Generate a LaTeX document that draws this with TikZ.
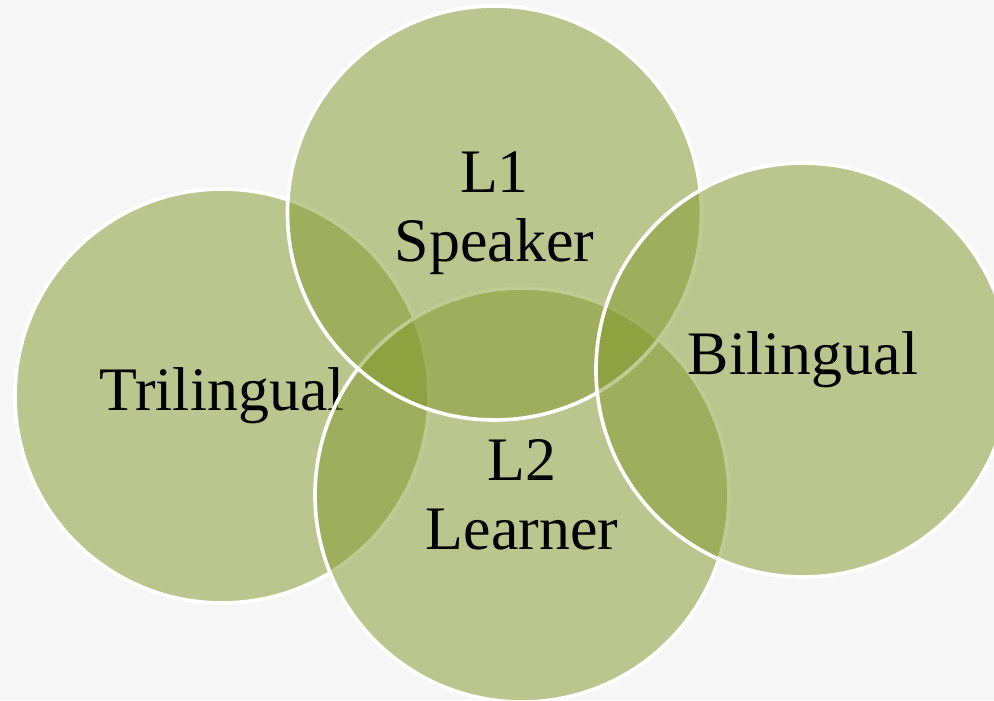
\documentclass[tikz,border=0pt]{standalone}
\usepackage{fontspec}
\setmainfont{Liberation Serif}
\usetikzlibrary{positioning}
\definecolor{olive}{RGB}{130,152,42}
\definecolor{paper}{RGB}{246,246,246}
\newcommand{\crad}{207}
\newcommand{\mcircle}[4][]{
  \node [venn,#1] at #2 (#4) {#3};
}

\begin{document}
\begin{tikzpicture}[x=0.025cm,y=0.025cm,
  venn/.style={circle,minimum size=2*\crad*0.025cm,inner sep=0pt,outer sep=0pt,
    fill=olive,fill opacity=0.5,text opacity=1,draw=white,draw opacity=1,
    line width=2.6pt,align=center,font=\fontsize{44}{49}\selectfont}]
  \fill [paper] (0,0) rectangle (994,700);
  \useasboundingbox (0,0) rectangle (994,700);

  \mcircle{(222,304)}{Trilingual}{tri}
  \mcircle{(522,205)}{L2\\Learner}{ltwo}
  \mcircle{(494.5,487)}{L1\\Speaker}{lone}
  \mcircle[text depth=24pt]{(803,330)}{Bilingual}{bi}
\end{tikzpicture}
\end{document}
